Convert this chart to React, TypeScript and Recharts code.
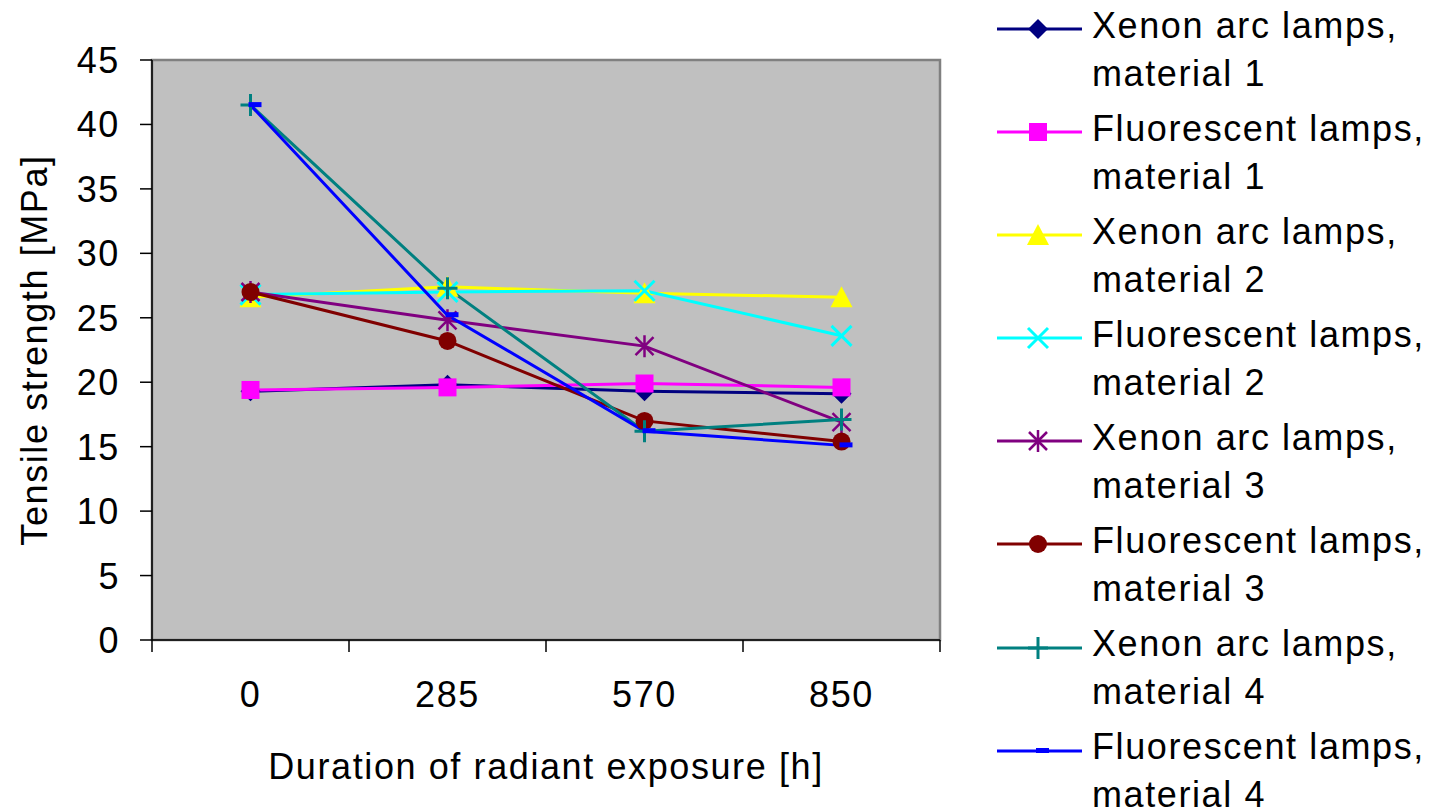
import React from "react";
import { Legend, Line, LineChart, XAxis, YAxis, usePlotArea } from "recharts";

// exposure durations [h]
const durations = ["0", "285", "570", "850"];

// tensile strength [MPa]
const xenonMaterial1 = [19.3, 19.8, 19.3, 19.1];
const fluorescentMaterial1 = [19.4, 19.6, 19.9, 19.6];
const xenonMaterial2 = [26.6, 27.4, 26.9, 26.6];
const fluorescentMaterial2 = [26.8, 27.0, 27.1, 23.6];
const xenonMaterial3 = [27.0, 24.8, 22.8, 16.9];
const fluorescentMaterial3 = [27.0, 23.2, 17.0, 15.4];
const xenonMaterial4 = [41.5, 27.3, 16.2, 17.1];
const fluorescentMaterial4 = [41.5, 25.2, 16.2, 15.1];

const yTicks = [0, 5, 10, 15, 20, 25, 30, 35, 40, 45];

const FONT = '"Liberation Sans", Arial, sans-serif';
const PLOT_LEFT = 152;
const PLOT_RIGHT = 940;
const HALF_BAND = (PLOT_RIGHT - PLOT_LEFT) / durations.length / 2;

type Shape = "diamond" | "square" | "triangle" | "cross" | "star" | "circle" | "plus" | "dash";

const series: { key: string; name: string; values: number[]; color: string; shape: Shape }[] = [
  { key: "xenon1", name: "Xenon arc lamps,\nmaterial 1", values: xenonMaterial1, color: "#000080", shape: "diamond" },
  { key: "fluor1", name: "Fluorescent lamps,\nmaterial 1", values: fluorescentMaterial1, color: "#ff00ff", shape: "square" },
  { key: "xenon2", name: "Xenon arc lamps,\nmaterial 2", values: xenonMaterial2, color: "#ffff00", shape: "triangle" },
  { key: "fluor2", name: "Fluorescent lamps,\nmaterial 2", values: fluorescentMaterial2, color: "#00ffff", shape: "cross" },
  { key: "xenon3", name: "Xenon arc lamps,\nmaterial 3", values: xenonMaterial3, color: "#800080", shape: "star" },
  { key: "fluor3", name: "Fluorescent lamps,\nmaterial 3", values: fluorescentMaterial3, color: "#800000", shape: "circle" },
  { key: "xenon4", name: "Xenon arc lamps,\nmaterial 4", values: xenonMaterial4, color: "#008080", shape: "plus" },
  { key: "fluor4", name: "Fluorescent lamps,\nmaterial 4", values: fluorescentMaterial4, color: "#0000ff", shape: "dash" },
];

const data = durations.map((d, i) => {
  const row: Record<string, string | number> = { duration: d };
  series.forEach((s) => (row[s.key] = s.values[i]));
  return row;
});

function Marker({ shape, color, cx, cy }: { shape: Shape; color: string; cx: number; cy: number }) {
  switch (shape) {
    case "diamond":
      return <polygon points={`${cx},${cy - 10} ${cx + 10},${cy} ${cx},${cy + 10} ${cx - 10},${cy}`} fill={color} />;
    case "square":
      return <rect x={cx - 9} y={cy - 9} width={18} height={18} fill={color} />;
    case "triangle":
      return <polygon points={`${cx},${cy - 11} ${cx + 11},${cy + 10} ${cx - 11},${cy + 10}`} fill={color} />;
    case "cross":
      return (
        <path
          d={`M${cx - 10},${cy - 10}L${cx + 10},${cy + 10}M${cx - 10},${cy + 10}L${cx + 10},${cy - 10}`}
          stroke={color}
          strokeWidth={3}
          fill="none"
        />
      );
    case "star":
      return (
        <path
          d={`M${cx - 9},${cy - 9}L${cx + 9},${cy + 9}M${cx - 9},${cy + 9}L${cx + 9},${cy - 9}M${cx},${cy - 11}L${cx},${cy + 11}`}
          stroke={color}
          strokeWidth={2.5}
          fill="none"
        />
      );
    case "circle":
      return <circle cx={cx} cy={cy} r={9} fill={color} />;
    case "plus":
      return (
        <path
          d={`M${cx - 10},${cy}L${cx + 10},${cy}M${cx},${cy - 11}L${cx},${cy + 11}`}
          stroke={color}
          strokeWidth={3}
          fill="none"
        />
      );
    case "dash":
      return <rect x={cx - 2} y={cy - 3} width={13} height={5} fill={color} />;
  }
}

const makeDot = (shape: Shape, color: string) => (props: any) => {
  if (props.cx == null || props.cy == null) return <g key={props.index} />;
  return (
    <g key={props.index}>
      <Marker shape={shape} color={color} cx={props.cx} cy={props.cy} />
    </g>
  );
};

// grey plot background with the darker frame on top/right
function PlotFrame() {
  const area = usePlotArea();
  if (!area) return null;
  return (
    <rect
      x={area.x}
      y={area.y}
      width={area.width}
      height={area.height}
      fill="#c0c0c0"
      stroke="#808080"
      strokeWidth={2.5}
    />
  );
}

function XTick(props: any) {
  const { x, y, payload, index } = props;
  const last = index === durations.length - 1;
  return (
    <g>
      <line x1={x - HALF_BAND} x2={x - HALF_BAND} y1={y} y2={y + 12} stroke="#000" strokeWidth={1.5} />
      {last && <line x1={x + HALF_BAND} x2={x + HALF_BAND} y1={y} y2={y + 12} stroke="#000" strokeWidth={1.5} />}
      <text x={x} y={y + 67} textAnchor="middle" fontFamily={FONT} fontSize={36} letterSpacing={1.6} fill="#000">
        {payload.value}
      </text>
    </g>
  );
}

function YTick(props: any) {
  const { x, y, payload } = props;
  return (
    <text x={x} y={y} dy="0.36em" textAnchor="end" fontFamily={FONT} fontSize={36} letterSpacing={1.6} fill="#000">
      {payload.value}
    </text>
  );
}

function XTitle(props: any) {
  const vb = props.viewBox;
  return (
    <text x={vb.x + vb.width / 2} y={vb.y + 139} textAnchor="middle" fontFamily={FONT} fontSize={36} letterSpacing={1.6} fill="#000">
      Duration of radiant exposure [h]
    </text>
  );
}

function YTitle(props: any) {
  const vb = props.viewBox;
  const cx = vb.x + 47;
  const cy = vb.y + vb.height / 2;
  return (
    <text
      x={cx}
      y={cy}
      transform={`rotate(-90 ${cx} ${cy})`}
      textAnchor="middle"
      fontFamily={FONT}
      fontSize={36}
      letterSpacing={1.6}
      fill="#000"
    >
      Tensile strength [MPa]
    </text>
  );
}

function LegendBox() {
  return (
    <div style={{ fontFamily: FONT, fontSize: 36, letterSpacing: 1.6, color: "#000" }}>
      {series.map((s) => (
        <div key={s.key} style={{ position: "relative", height: 103.1 }}>
          <svg width={90} height={60} style={{ position: "absolute", left: 0, top: 0 }}>
            <line x1={0} x2={85} y1={29} y2={29} stroke={s.color} strokeWidth={3} />
            <Marker shape={s.shape} color={s.color} cx={41} cy={29} />
          </svg>
          <div style={{ position: "absolute", left: 95, top: 1.5, lineHeight: "48px", whiteSpace: "pre" }}>{s.name}</div>
        </div>
      ))}
    </div>
  );
}

export default function App() {
  return (
    <div style={{ width: 1444, height: 810, background: "#fff" }}>
      <style>{"body{margin:0}"}</style>
      <LineChart width={1444} height={810} data={data} margin={{ top: 60, right: 57, bottom: 0, left: 0 }}>
        <PlotFrame />
        <XAxis
          dataKey="duration"
          scale="point"
          padding={{ left: HALF_BAND, right: HALF_BAND }}
          height={170}
          axisLine={{ stroke: "#000", strokeWidth: 1.5 }}
          tickLine={false}
          tickSize={0}
          tickMargin={0}
          tick={<XTick />}
          interval={0}
          label={<XTitle />}
        />
        <YAxis
          type="number"
          domain={[0, 45]}
          ticks={yTicks}
          interval={0}
          width={152}
          tickSize={12}
          tickMargin={20}
          axisLine={{ stroke: "#000", strokeWidth: 1.5 }}
          tickLine={{ stroke: "#000", strokeWidth: 1.5 }}
          tick={<YTick />}
          label={<YTitle />}
        />
        <Legend
          layout="vertical"
          align="right"
          verticalAlign="top"
          wrapperStyle={{ left: 997, top: 0, width: 447 }}
          content={<LegendBox />}
        />
        {series.map((s) => (
          <Line
            key={s.key}
            dataKey={s.key}
            name={s.name}
            type="linear"
            stroke={s.color}
            strokeWidth={3}
            dot={makeDot(s.shape, s.color)}
            activeDot={false}
            isAnimationActive={false}
          />
        ))}
      </LineChart>
    </div>
  );
}
